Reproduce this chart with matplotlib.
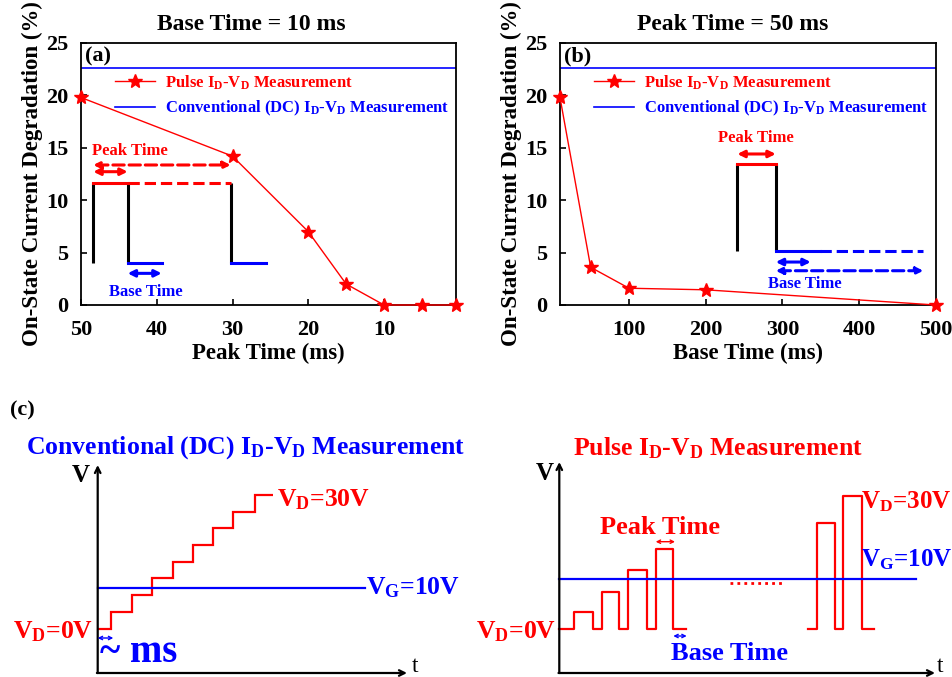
import numpy as np
import matplotlib
matplotlib.use("Agg")
import matplotlib.pyplot as plt

plt.rcParams['font.family'] = 'serif'
plt.rcParams['font.serif'] = ['Liberation Serif', 'DejaVu Serif']
plt.rcParams['font.weight'] = 'bold'
plt.rcParams['axes.labelweight'] = 'bold'
plt.rcParams['mathtext.fontset'] = 'custom'
plt.rcParams['mathtext.rm'] = 'Liberation Serif:bold'
plt.rcParams['mathtext.bf'] = 'Liberation Serif:bold'
plt.rcParams['mathtext.default'] = 'bf'

RED = '#ff0000'
BLUE = '#0000ff'

# (a) base time = 10 ms
peak_time_a = [50, 30, 20, 15, 10, 5, 0.5]
degr_a = [19.8, 14.2, 7.0, 2.0, 0.0, 0.0, 0.0]
# (b) peak time = 50 ms
base_time_b = [10, 50, 100, 200, 500]
degr_b = [19.8, 3.6, 1.6, 1.45, 0.0]
# conventional DC measurement
dc_degr = 22.6

xticks_a = [50, 40, 30, 20, 10]
xticks_b = [100, 200, 300, 400, 500]
yticks = [0, 5, 10, 15, 20, 25]

lbl_pulse = r'Pulse I$_D$-V$_D$ Measurement'
lbl_dc = r'Conventional (DC) I$_D$-V$_D$ Measurement'

# schematic (c): staircase edges / levels and pulse trains, in figure pixels
stair_edges = [97.7, 110.7, 132.3, 152.3, 172.7, 192.7, 212.7, 233.3, 255, 273.3]
stair_levels = [628.7, 611.7, 595, 578.3, 561.7, 545, 527.7, 511.7, 495]
pulse_train1 = [(574.3, 592.7, 611.7), (601.7, 619.3, 591.7),
                (628.0, 646.7, 570.0), (655.7, 673.3, 549.0)]
pulse_train2 = [(816.7, 835.0, 522.7), (843.3, 861.7, 496.0)]

fig = plt.figure(figsize=(9.53, 6.77), dpi=100)
W, H = 953, 677


def axbox(x0, y0, x1, y1):
    return [x0 / W, 1 - y1 / H, (x1 - x0) / W, (y1 - y0) / H]


def style(ax):
    for s in ax.spines.values():
        s.set_linewidth(1.3)
    ax.tick_params(direction='in', length=4, width=1.2, labelsize=16)
    ax.tick_params(axis='y', pad=9)
    ax.tick_params(axis='x', pad=11)
    ax.set_ylim(0, 25)
    ax.set_yticks(yticks)
    ax.set_ylabel('On-State Current Degradation (%)', fontsize=16.5, labelpad=2)


def legend(ax):
    leg = ax.legend(loc='upper left', bbox_to_anchor=(0.09, 0.885), frameon=False,
                    fontsize=12, handlelength=2.4, handletextpad=0.6,
                    labelspacing=0.45, borderpad=0, borderaxespad=0,
                    labelcolor='linecolor')
    return leg


def darrow(ax, x0, x1, y, color, ls='-', lw=2.2, ms=10):
    ax.annotate('', xy=(x1, y), xytext=(x0, y),
                arrowprops=dict(arrowstyle='<|-|>', color=color, lw=lw,
                                linestyle=ls, mutation_scale=ms, shrinkA=0, shrinkB=0))


# ---------------- (a)
ax = fig.add_axes(axbox(81, 43, 456, 305))
ax.plot(peak_time_a, degr_a, color=RED, lw=1, marker='*', ms=10, label=lbl_pulse,
        clip_on=False, zorder=5)
ax.axhline(dc_degr, color=BLUE, lw=1.2, label=lbl_dc)
ax.set_xlim(50, 0.5)
ax.set_xticks(xticks_a)
style(ax)
ax.set_xlabel('Peak Time (ms)', fontsize=16.5, labelpad=2)
legend(ax)
ax.text(0.01, 0.985, '(a)', transform=ax.transAxes, fontsize=16, va='top', ha='left')
ax.text(0.453, 1.069, 'Base Time = 10 ms', transform=ax.transAxes, fontsize=17,
        ha='center', va='center')
# inset pulse sketch
ax.vlines([48.38, 43.84, 30.24], 3.98, 11.67, color='k', lw=2.2)
ax.plot([48.38, 43.84], [11.67, 11.67], color=RED, lw=2.2)
ax.plot([43.84, 30.24], [11.67, 11.67], color=RED, lw=2.2, ls='--')
ax.plot([43.84, 39.35], [3.98, 3.98], color=BLUE, lw=2.2)
ax.plot([30.24, 25.58], [3.98, 3.98], color=BLUE, lw=2.2)
darrow(ax, 48.38, 43.84, 12.72, RED)
darrow(ax, 48.38, 30.24, 13.36, RED, ls='--')
darrow(ax, 43.84, 39.35, 3.02, BLUE)
ax.text(48.6, 14.72, 'Peak Time', color=RED, fontsize=12, va='center', ha='left')
ax.text(41.5, 1.21, 'Base Time', color=BLUE, fontsize=12, va='center', ha='center')

# ---------------- (b)
bx = fig.add_axes(axbox(560, 43, 935.7, 305))
bx.plot(base_time_b, degr_b, color=RED, lw=1, marker='*', ms=10, label=lbl_pulse,
        clip_on=False, zorder=5)
bx.axhline(dc_degr, color=BLUE, lw=1.2, label=lbl_dc)
bx.set_xlim(10, 500)
bx.set_xticks(xticks_b)
style(bx)
bx.set_xlabel('Base Time (ms)', fontsize=16.5, labelpad=2)
legend(bx)
bx.text(0.01, 0.985, '(b)', transform=bx.transAxes, fontsize=16, va='top', ha='left')
bx.text(0.459, 1.069, 'Peak Time = 50 ms', transform=bx.transAxes, fontsize=17,
        ha='center', va='center')
bx.vlines([241.3, 291.4], 5.15, 13.43, color='k', lw=2.2)
bx.plot([241.3, 291.4], [13.43, 13.43], color=RED, lw=2.2)
bx.plot([291.4, 349.2], [5.15, 5.15], color=BLUE, lw=2.2)
bx.plot([349.2, 483.9], [5.15, 5.15], color=BLUE, lw=2.2, ls='--')
darrow(bx, 241.3, 291.4, 14.41, RED)
darrow(bx, 291.4, 337.0, 4.10, BLUE)
darrow(bx, 291.4, 483.9, 3.27, BLUE, ls='--')
bx.text(265.4, 15.9, 'Peak Time', color=RED, fontsize=12, va='center', ha='center')
bx.text(329.2, 1.98, 'Base Time', color=BLUE, fontsize=12, va='center', ha='center')

# ---------------- (c) schematic, pixel coordinates
cx = fig.add_axes([0, 0, 1, 1], facecolor='none')
cx.set_xlim(0, W)
cx.set_ylim(H, 0)
cx.axis('off')
cx.text(10, 410, '(c)', fontsize=16, va='center', ha='left')


def axes_arrows(x0, ytop, xend, ybot):
    cx.annotate('', xy=(x0, ytop), xytext=(x0, ybot),
                arrowprops=dict(arrowstyle='->', color='k', lw=1.6, shrinkA=0, shrinkB=0))
    cx.annotate('', xy=(xend, ybot), xytext=(x0 - 0.8, ybot),
                arrowprops=dict(arrowstyle='->', color='k', lw=1.6, shrinkA=0, shrinkB=0))


# left: conventional DC
cx.text(246, 448, lbl_dc, color=BLUE, fontsize=18.5, ha='center', va='center')
axes_arrows(97.7, 465, 407, 673)
cx.text(81, 476, 'V', fontsize=18, ha='center', va='center')
cx.text(415, 666, 't', fontsize=17, fontweight='normal', ha='center', va='center')
cx.stairs(stair_levels, stair_edges, baseline=None, color=RED, lw=1.6)
cx.plot([97.7, 365], [588.3, 588.3], color=BLUE, lw=1.6)
cx.text(366, 588, r'V$_G$=10V', color=BLUE, fontsize=18.5, ha='left', va='center')
cx.text(277, 500, r'V$_D$=30V', color=RED, fontsize=18.5, ha='left', va='center')
cx.text(93, 632, r'V$_D$=0V', color=RED, fontsize=18.5, ha='right', va='center')
cx.annotate('', xy=(113.3, 638), xytext=(97.7, 638),
            arrowprops=dict(arrowstyle='<->', color=BLUE, lw=1, mutation_scale=6,
                            shrinkA=0, shrinkB=0))
cx.text(100, 653, '~ ms', color=BLUE, fontsize=28, ha='left', va='center')

# right: pulse
cx.text(718, 448, lbl_pulse, color=RED, fontsize=18.5, ha='center', va='center')
axes_arrows(559.3, 462, 935, 673)
cx.text(545, 474, 'V', fontsize=18, ha='center', va='center')
cx.text(940, 666, 't', fontsize=17, fontweight='normal', ha='center', va='center')


def pulse_path(x_start, x_end, base, pulses):
    xs, ys = [x_start], [base]
    for p0, p1, top in pulses:
        xs += [p0, p0, p1, p1]
        ys += [base, top, top, base]
    xs.append(x_end)
    ys.append(base)
    return xs, ys


xs, ys = pulse_path(559.3, 686, 628.7, pulse_train1)
cx.plot(xs, ys, color=RED, lw=1.6)
xs, ys = pulse_path(808.3, 874.3, 628.7, pulse_train2)
cx.plot(xs, ys, color=RED, lw=1.6)
cx.plot([730, 783.3], [582.7, 582.7], color=RED, lw=2, ls=(0, (1, 1.5)))
cx.plot([559.3, 916], [579, 579], color=BLUE, lw=1.6)
cx.text(861, 560, r'V$_G$=10V', color=BLUE, fontsize=18, ha='left', va='center')
cx.text(861, 502, r'V$_D$=30V', color=RED, fontsize=18, ha='left', va='center')
cx.text(556, 632, r'V$_D$=0V', color=RED, fontsize=18.5, ha='right', va='center')
cx.text(660.5, 527, 'Peak Time', color=RED, fontsize=19, ha='center', va='center')
cx.text(730, 654, 'Base Time', color=BLUE, fontsize=19, ha='center', va='center')
cx.annotate('', xy=(675, 541.7), xytext=(655.7, 541.7),
            arrowprops=dict(arrowstyle='<->', color=RED, lw=1, mutation_scale=6,
                            shrinkA=0, shrinkB=0))
cx.annotate('', xy=(686.7, 636), xytext=(673.3, 636),
            arrowprops=dict(arrowstyle='<->', color=BLUE, lw=1, mutation_scale=6,
                            shrinkA=0, shrinkB=0))

fig.savefig('out.png', dpi=100)
